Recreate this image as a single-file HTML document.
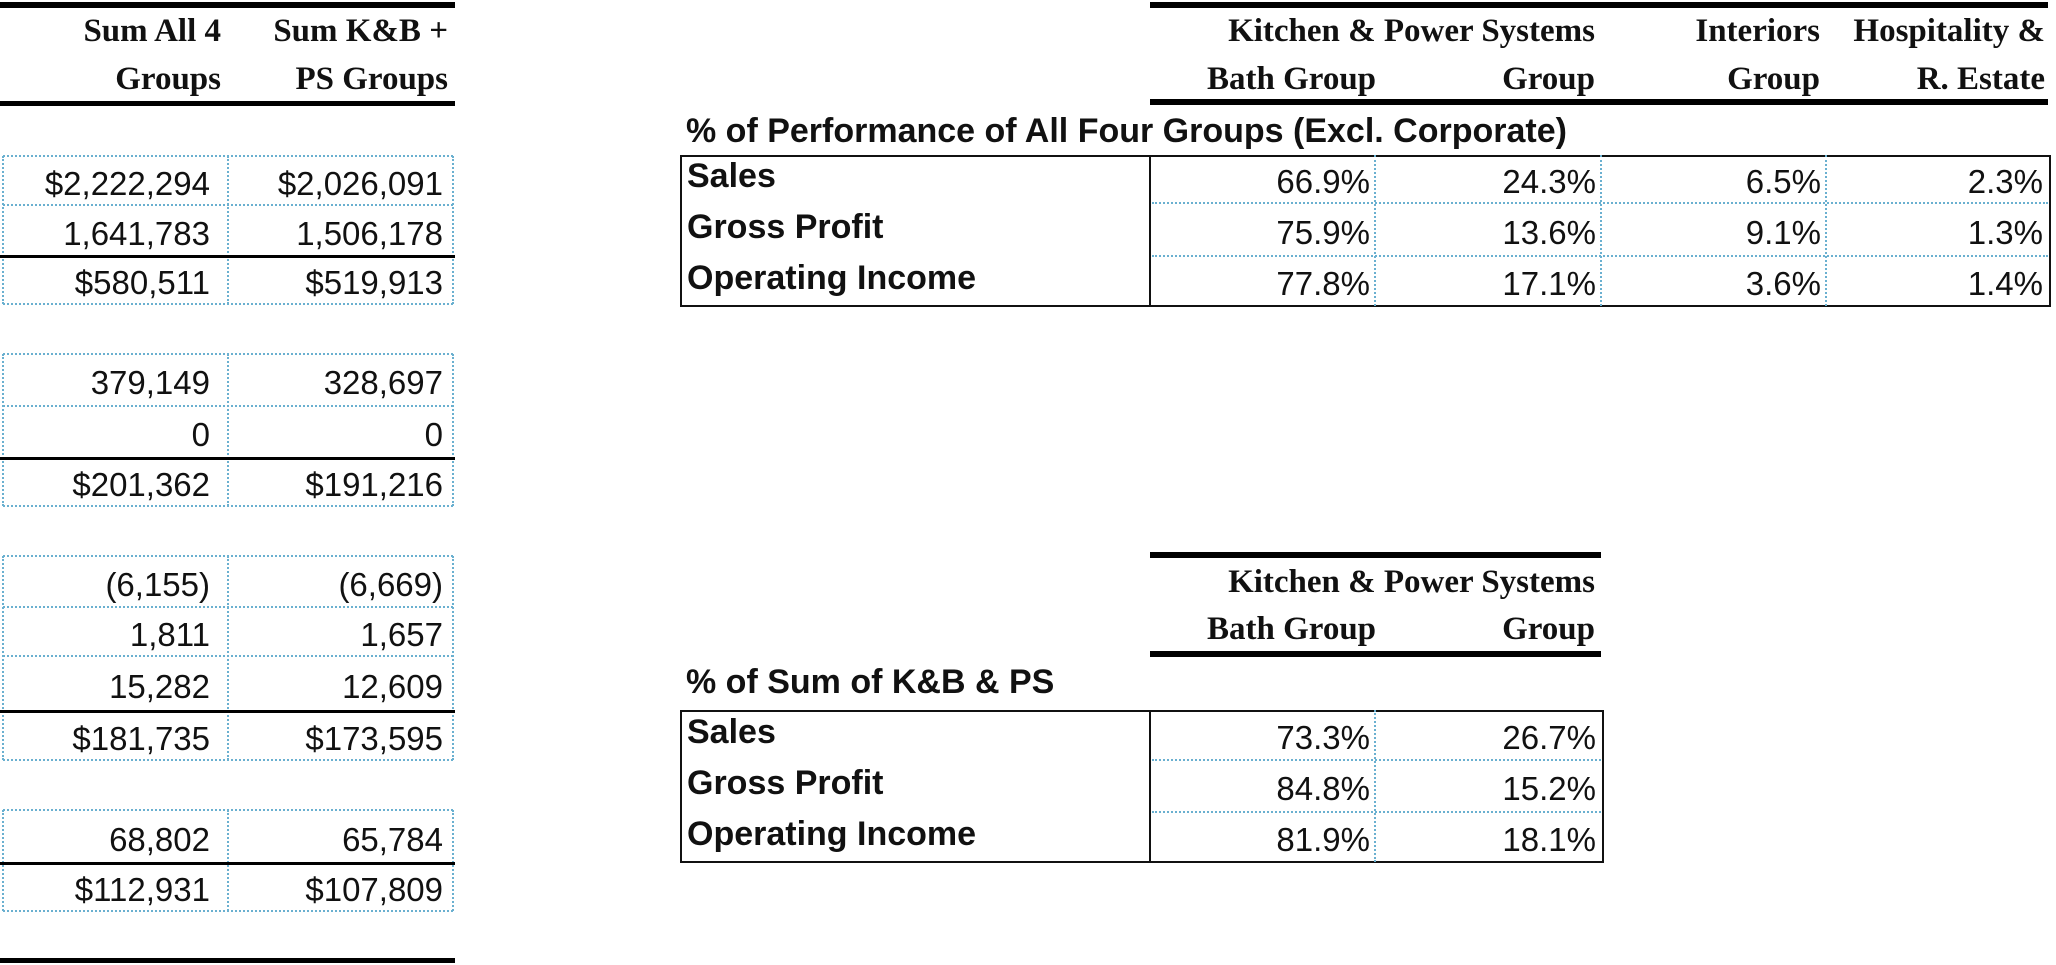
<!DOCTYPE html>
<html><head><meta charset="utf-8">
<style>
html,body{margin:0;padding:0;background:#fff;}
#root{position:relative;width:2056px;height:965px;overflow:hidden;background:#fff;}
.t{position:absolute;white-space:nowrap;color:#111;}
.num{font-family:"Liberation Sans",Arial,sans-serif;font-size:33px;}
.hdr{font-family:"Liberation Serif","Times New Roman",serif;font-weight:bold;font-size:33px;}
.lbl{font-family:"Liberation Sans",Arial,sans-serif;font-weight:bold;font-size:34px;}
.ln{position:absolute;}
</style></head>
<body>
<div id="root"></div>
<script>
// ---- data ----
const leftHeaders1 = ["Sum All 4", "Sum K&B +"];
const leftHeaders2 = ["Groups", "PS Groups"];
const leftColAll = ["$2,222,294","1,641,783","$580,511","379,149","0","$201,362","(6,155)","1,811","15,282","$181,735","68,802","$112,931"];
const leftColKBPS = ["$2,026,091","1,506,178","$519,913","328,697","0","$191,216","(6,669)","1,657","12,609","$173,595","65,784","$107,809"];
const rowLabels = ["Sales","Gross Profit","Operating Income"];
const groupHead1 = ["Kitchen  & Power Systems","","Interiors","Hospitality &"];
const groupHead2 = ["Group","Interiors-Group","Group","R. Estate"];
const pctAllKB = ["66.9%","75.9%","77.8%"];
const pctAllPS = ["24.3%","13.6%","17.1%"];
const pctAllInt = ["6.5%","9.1%","3.6%"];
const pctAllHosp = ["2.3%","1.3%","1.4%"];
const pctSumKB = ["73.3%","84.8%","81.9%"];
const pctSumPS = ["26.7%","15.2%","18.1%"];

const root = document.getElementById('root');
const DOT = '2px dotted #6ab0d0';
function line(x,y,w,h,bg,name){
  const d=document.createElement('div');
  d.className='ln';
  d.style.cssText=`left:${x}px;top:${y}px;width:${w}px;height:${h}px;background:${bg};`;
  
  
  root.appendChild(d);return d;
}
function hdot(x,y,w,name){
  const d=document.createElement('div');
  d.className='ln';
  d.style.cssText=`left:${x}px;top:${y-1}px;width:${w}px;height:0;border-top:${DOT};`;
  
  
  root.appendChild(d);
}
function vdot(x,y,h,name){
  const d=document.createElement('div');
  d.className='ln';
  d.style.cssText=`left:${x-1}px;top:${y}px;width:0;height:${h}px;border-left:${DOT};`;
  
  
  root.appendChild(d);
}
function text(s,cls,xr,cy,align,name){
  const d=document.createElement('div');
  d.className='t '+cls;
  d.textContent=s;
  d.style.lineHeight='38px';
  d.style.top=(cy-19)+'px';
  if(align==='right'){d.style.right=(2056-xr)+'px';}else{d.style.left=xr+'px';}
  
  
  root.appendChild(d);
}

// ---- left table ----
line(0,2,455,6,'#000','left-top-rule');
text(leftHeaders1[0],'hdr',221,31,'right','header-sum-all-line1');
text(leftHeaders2[0],'hdr',221,79,'right','header-sum-all-line2');
text(leftHeaders1[1],'hdr',448,31,'right','header-sum-kbps-line1');
text(leftHeaders2[1],'hdr',448,79,'right','header-sum-kbps-line2');
line(0,101,455,5,'#000','left-header-rule');

const boxes=[[156,205,256,304],[354,406,458,506],[556,607,656,711,760],[810,863,911]];
const solidIdx=[[1],[1],[2],[0]];
let vi=0;
boxes.forEach((b,bi)=>{
  vdot(3,b[0],b[b.length-1]-b[0],'left-box-edge');
  vdot(228,b[0],b[b.length-1]-b[0],'left-col-divider');
  vdot(453,b[0],b[b.length-1]-b[0],'left-box-edge');
  for(let i=0;i<b.length;i++){
    const isSolid=solidIdx[bi].includes(i-1);
    if(isSolid) line(0,b[i]-1,455,3,'#000','subtotal-rule');
    else hdot(3,b[i],450,'row-gridline');
  }
  for(let i=0;i<b.length-1;i++){
    const cy=(b[i]+b[i+1])/2+3;
    text(leftColAll[vi],'num',210,cy,'right','sum-all-value');
    text(leftColKBPS[vi],'num',443,cy,'right','sum-kbps-value');
    vi++;
  }
});
line(0,958,455,5,'#000','left-bottom-rule');

// ---- top right table ----
line(1150,2,898,6,'#000','top-table-top-rule');
text('Kitchen  & Power Systems','hdr',1595,31,'right','header-kb-ps-line1');
text('Bath Group','hdr',1207,79,'left','header-kb-line2');
text('Group','hdr',1595,79,'right','header-ps-line2');
text(groupHead1[2],'hdr',1820,31,'right','header-interiors-line1');
text(groupHead2[2],'hdr',1820,79,'right','header-interiors-line2');
text(groupHead1[3],'hdr',2045,31,'right','header-hospitality-line1');
text(groupHead2[3],'hdr',2045,79,'right','header-hospitality-line2');
line(1150,99,898,6,'#000','top-table-header-rule');
text('% of Performance of All Four Groups (Excl. Corporate)','lbl',686,131,'left','top-table-title');

function pctTable(top,rows,cols,colX,left,right,prefix){
  const box=document.createElement('div');
  box.className='ln';
  box.style.cssText=`left:${left}px;top:${top}px;width:${right-left-3}px;height:${rows[3]-top-3}px;border:2px solid #111;`;
  
  
  root.appendChild(box);
  line(1149,top,2,rows[3]-top,'#111',prefix+'-label-divider');
  for(let i=1;i<colX.length-1;i++) vdot(colX[i],top,rows[3]-top,prefix+'-col-divider');
  hdot(1152,rows[1],right-1154,prefix+'-row-gridline');
  hdot(1152,rows[2],right-1154,prefix+'-row-gridline');
  for(let r=0;r<3;r++){
    const a=(r===0?top:rows[r]), b=rows[r+1];
    text(rowLabels[r],'lbl',687,(a+b)/2-3,'left',prefix+'-row-label');
    cols.forEach((c,ci)=>{
      text(c[r],'num',colX[ci+1]-5,(a+b)/2+3,'right',prefix+'-value');
    });
  }
}
pctTable(155,[155,203,256,306],[pctAllKB,pctAllPS,pctAllInt,pctAllHosp],[1150,1375,1601,1826,2048],680,2050,'pct-all');

// ---- bottom table ----
line(1150,552,451,6,'#000','bottom-table-top-rule');
text('Kitchen  & Power Systems','hdr',1595,582,'right','bottom-header-line1');
text('Bath Group','hdr',1207,629,'left','bottom-header-kb-line2');
text('Group','hdr',1595,629,'right','bottom-header-ps-line2');
line(1150,651,451,6,'#000','bottom-table-header-rule');
text('% of Sum of K&B & PS','lbl',686,682,'left','bottom-table-title');
pctTable(710,[710,760,812,862],[pctSumKB,pctSumPS],[1150,1375,1601],680,1603,'pct-sum');
</script>
</body></html>
